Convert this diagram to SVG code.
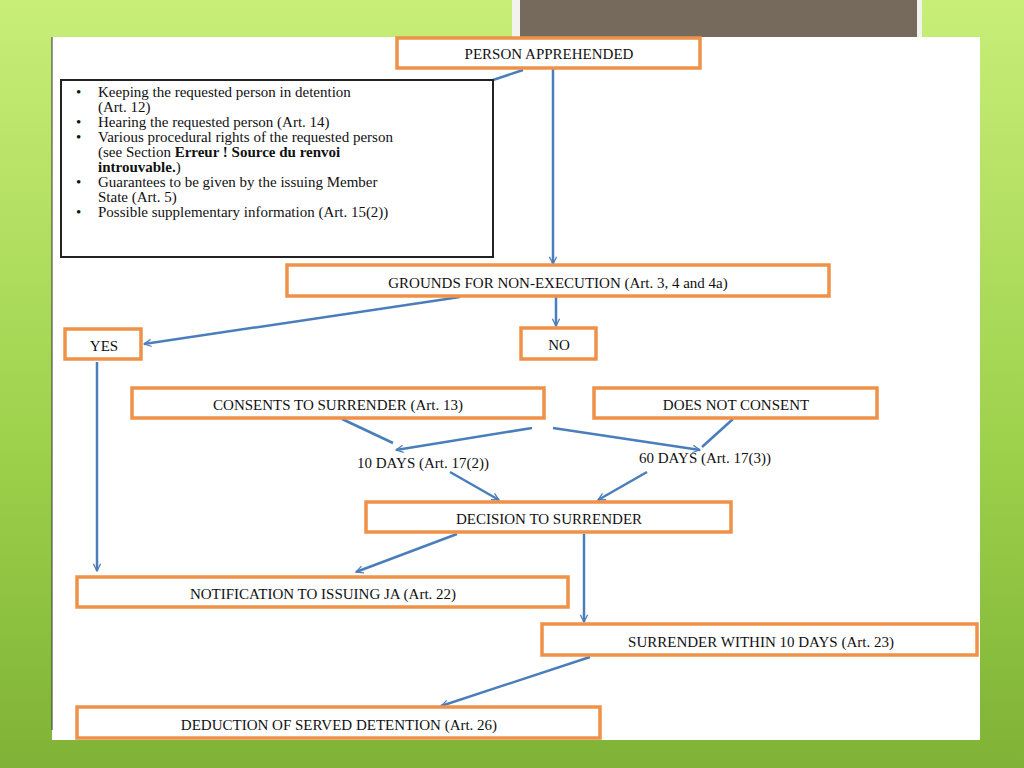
<svg xmlns="http://www.w3.org/2000/svg" width="1024" height="768" viewBox="0 0 1024 768">
<defs>
<linearGradient id="bg" x1="0" y1="0" x2="0" y2="1"><stop offset="0" stop-color="#c8ee78"/><stop offset="0.6" stop-color="#9cd04a"/><stop offset="1" stop-color="#7fb236"/></linearGradient>
<marker id="ah" viewBox="0 0 10 10" refX="9" refY="5" markerWidth="9" markerHeight="9" orient="auto" markerUnits="userSpaceOnUse"><path d="M1,1 L9,5 L1,9" fill="none" stroke="#4a7ebb" stroke-width="1.4"/></marker>
<style>
.n rect{fill:#fff;stroke:#f0914a;stroke-width:3.5}
text{font-family:"Liberation Serif","Times New Roman",serif;font-size:15px;fill:#111}
.c{text-anchor:middle}
#connectors line{stroke:#4a7ebb;stroke-width:2.5}
</style>
</defs>
<rect width="1024" height="768" fill="url(#bg)"/>
<rect x="512" y="0" width="410" height="37" fill="#f2f2ee"/>
<rect x="520" y="0" width="397" height="37" fill="#766a5c"/>
<rect x="52" y="37" width="928" height="703" fill="#fff"/>
<line x1="52" y1="37" x2="52" y2="730" stroke="#333" stroke-width="1"/>
<g id="connectors">
<line x1="523" y1="70" x2="493" y2="80"/>
<line x1="553" y1="68" x2="553" y2="264" marker-end="url(#ah)"/>
<line x1="460" y1="297" x2="144" y2="344" marker-end="url(#ah)"/>
<line x1="556" y1="297" x2="556" y2="326" marker-end="url(#ah)"/>
<line x1="97" y1="362" x2="97" y2="571" marker-end="url(#ah)"/>
<line x1="342" y1="419" x2="393" y2="443"/>
<line x1="532" y1="428" x2="396" y2="450" marker-end="url(#ah)"/>
<line x1="553" y1="428" x2="700" y2="450" marker-end="url(#ah)"/>
<line x1="733" y1="419" x2="702" y2="447"/>
<line x1="450" y1="472" x2="499" y2="500" marker-end="url(#ah)"/>
<line x1="647" y1="472" x2="598" y2="500" marker-end="url(#ah)"/>
<line x1="457" y1="534" x2="356" y2="572" marker-end="url(#ah)"/>
<line x1="584" y1="534" x2="584" y2="622" marker-end="url(#ah)"/>
<line x1="590" y1="657" x2="441" y2="706" marker-end="url(#ah)"/>
</g>
<g id="n-person" class="n"><rect x="397" y="38" width="303" height="30"/><text class="c" x="549" y="59">PERSON APPREHENDED</text></g>
<g id="n-list">
<rect x="61" y="80" width="432" height="177" fill="#fff" stroke="#222" stroke-width="2"/>
<text x="76" y="97">•</text><text x="98" y="97">Keeping the requested person in detention</text>
<text x="98" y="112">(Art. 12)</text>
<text x="76" y="127">•</text><text x="98" y="127">Hearing the requested person (Art. 14)</text>
<text x="76" y="142">•</text><text x="98" y="142">Various procedural rights of the requested person</text>
<text x="98" y="157">(see Section <tspan font-weight="bold">Erreur ! Source du renvoi</tspan></text>
<text x="98" y="172" font-weight="bold">introuvable.<tspan font-weight="normal">)</tspan></text>
<text x="76" y="187">•</text><text x="98" y="187">Guarantees to be given by the issuing Member</text>
<text x="98" y="202">State (Art. 5)</text>
<text x="76" y="217">•</text><text x="98" y="217">Possible supplementary information (Art. 15(2))</text>
</g>
<g id="n-grounds" class="n"><rect x="287" y="265" width="542" height="31"/><text class="c" x="558" y="288">GROUNDS FOR NON-EXECUTION (Art. 3, 4 and 4a)</text></g>
<g id="n-yes" class="n"><rect x="65" y="329" width="76" height="30"/><text class="c" x="104" y="351">YES</text></g>
<g id="n-no" class="n"><rect x="521" y="328" width="75" height="31"/><text class="c" x="559" y="350">NO</text></g>
<g id="n-consents" class="n"><rect x="132" y="388" width="412" height="30"/><text class="c" x="338" y="410">CONSENTS TO SURRENDER (Art. 13)</text></g>
<g id="n-notconsent" class="n"><rect x="594" y="388" width="283" height="30"/><text class="c" x="736" y="410">DOES NOT CONSENT</text></g>
<g id="n-10days"><text class="c" x="423" y="468">10 DAYS (Art. 17(2))</text></g>
<g id="n-60days"><text class="c" x="705" y="463">60 DAYS (Art. 17(3))</text></g>
<g id="n-decision" class="n"><rect x="366" y="502" width="365" height="30"/><text class="c" x="549" y="524">DECISION TO SURRENDER</text></g>
<g id="n-notification" class="n"><rect x="77" y="577" width="491" height="30"/><text class="c" x="323" y="599">NOTIFICATION TO ISSUING JA (Art. 22)</text></g>
<g id="n-surrender" class="n"><rect x="542" y="624" width="435" height="31"/><text class="c" x="761" y="647">SURRENDER WITHIN 10 DAYS (Art. 23)</text></g>
<g id="n-deduction" class="n"><rect x="77" y="707" width="523" height="31"/><text class="c" x="339" y="730">DEDUCTION OF SERVED DETENTION (Art. 26)</text></g>
</svg>
